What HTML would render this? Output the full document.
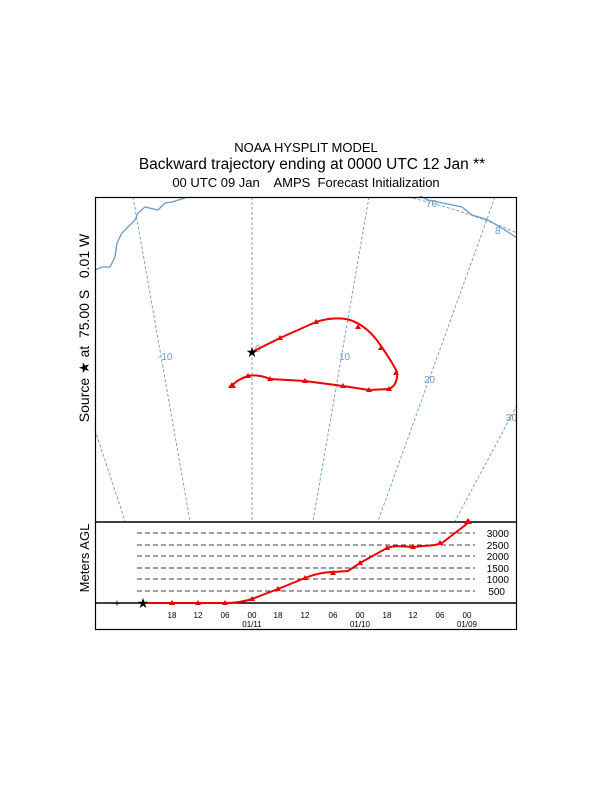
<!DOCTYPE html>
<html><head><meta charset="utf-8"><style>
html,body{margin:0;padding:0;background:#fff}
svg{display:block;font-family:"Liberation Sans",sans-serif}
</style></head><body>
<svg width="612" height="792" viewBox="0 0 612 792" xmlns="http://www.w3.org/2000/svg">
<rect width="612" height="792" fill="#fff"/>
<text x="306" y="152" font-size="13" text-anchor="middle">NOAA HYSPLIT MODEL</text>
<text x="312" y="169" font-size="15.5" text-anchor="middle">Backward trajectory ending at 0000 UTC 12 Jan **</text>
<text x="306" y="187" font-size="13" text-anchor="middle" xml:space="preserve">00 UTC 09 Jan    AMPS  Forecast Initialization</text>
<text transform="translate(89,328) rotate(-90)" font-size="14" text-anchor="middle" xml:space="preserve">Source ★ at  75.00 S   0.01 W</text>
<text transform="translate(89,558) rotate(-90)" font-size="13" text-anchor="middle">Meters AGL</text>
<g stroke="#6a9ac8" stroke-width="0.9" stroke-dasharray="3,2" fill="none">
<line x1="252" y1="197" x2="252" y2="521"/>
<line x1="133" y1="197" x2="190" y2="521"/>
<line x1="95" y1="430" x2="125" y2="521"/>
<line x1="369" y1="197" x2="313" y2="521"/>
<line x1="495" y1="197" x2="378" y2="521"/>
<line x1="517" y1="405" x2="455" y2="521"/>
<path d="M408,197 Q470,212 517,233"/>
</g>
<path d="M185,198 L172,202 L165,203 L158,210 L145,207 L138,213 L135,220 L128,227 L122,233 L117,243 L115,257 L110,267 L102,267 L95,270" stroke="#6a9ac8" stroke-width="1.3" fill="none"/>
<path d="M420,196 L428,200 L462,207 L472,215 L488,220 L505,230 L517,238" stroke="#6a9ac8" stroke-width="1.3" fill="none"/>
<g fill="#6a9ac8" font-size="10">
<text x="158" y="360">-10</text><text x="255" y="352">0</text><text x="339" y="360">10</text>
<text x="424" y="383">20</text><text x="506" y="421">30</text><text x="426" y="207">70</text><text x="495" y="234">8</text>
</g>
<path d="M252,352 L280,338 L316,322 Q335,316 350,320 Q368,326 381,346 Q392,362 397,372 Q398,385 389,389 L369,390 L343,386 L305,381 L270,379 Q258,374 248,376 Q236,380 231,387" stroke="#e00" stroke-width="2" fill="none"/>
<g fill="#e00">
<path d="M280,335l3,5h-6z M316,319l3,5h-6z M358,324l3,5h-6z M381,345l3,5h-6z M396,370l3,5h-6z M389,386l3,5h-6z M369,387l3,5h-6z M343,383l3,5h-6z M305,378l3,5h-6z M270,376l3,5h-6z M248,373l3,5h-6z M232,382l4,6h-8z"/>
</g>
<text x="252" y="357" font-size="14" text-anchor="middle">★</text>
<rect x="95.5" y="197.5" width="421" height="432" fill="none" stroke="#000" stroke-width="1.2"/>
<line x1="95" y1="522" x2="517" y2="522" stroke="#000" stroke-width="1.5"/>
<line x1="95" y1="603" x2="517" y2="603" stroke="#000" stroke-width="1.5"/>
<g stroke="#000" stroke-width="0.8" stroke-dasharray="5,3">
<line x1="137" y1="533" x2="475" y2="533"/><line x1="137" y1="545" x2="475" y2="545"/>
<line x1="137" y1="556" x2="475" y2="556"/><line x1="137" y1="568" x2="475" y2="568"/>
<line x1="137" y1="579" x2="475" y2="579"/><line x1="137" y1="591" x2="475" y2="591"/>
</g>
<g font-size="10" text-anchor="end">
<text x="509" y="537">3000</text><text x="509" y="549">2500</text><text x="509" y="560">2000</text>
<text x="509" y="572">1500</text><text x="509" y="583">1000</text><text x="505" y="595">500</text>
</g>
<path d="M143,603 L225,603 Q240,603 252,599 L278,589 L305,578 Q320,572 333,572 L348,571 L360,563 L387,548 Q392,545 413,547 L435,545 L442,543 L468,523" stroke="#e00" stroke-width="2" fill="none"/>
<g fill="#e00">
<path d="M172,600l3,5h-6z M198,600l3,5h-6z M225,600l3,5h-6z M252,596l3,5h-6z M278,586l3,5h-6z M305,575l3,5h-6z M333,570l3,5h-6z M360,560l3,5h-6z M387,545l3,5h-6z M413,544l3,5h-6z M440,540l3,5h-6z M468,518l4,6h-8z"/>
</g>
<text x="117" y="607" font-size="11" text-anchor="middle">+</text>
<text x="143" y="608" font-size="14" text-anchor="middle">★</text>
<g font-size="8" text-anchor="middle">
<text x="172" y="618">18</text><text x="198" y="618">12</text><text x="225" y="618">06</text><text x="252" y="618">00</text>
<text x="278" y="618">18</text><text x="305" y="618">12</text><text x="333" y="618">06</text><text x="360" y="618">00</text>
<text x="387" y="618">18</text><text x="413" y="618">12</text><text x="440" y="618">06</text><text x="467" y="618">00</text>
<text x="252" y="627">01/11</text><text x="360" y="627">01/10</text><text x="467" y="627">01/09</text>
</g>
</svg>
</body></html>
